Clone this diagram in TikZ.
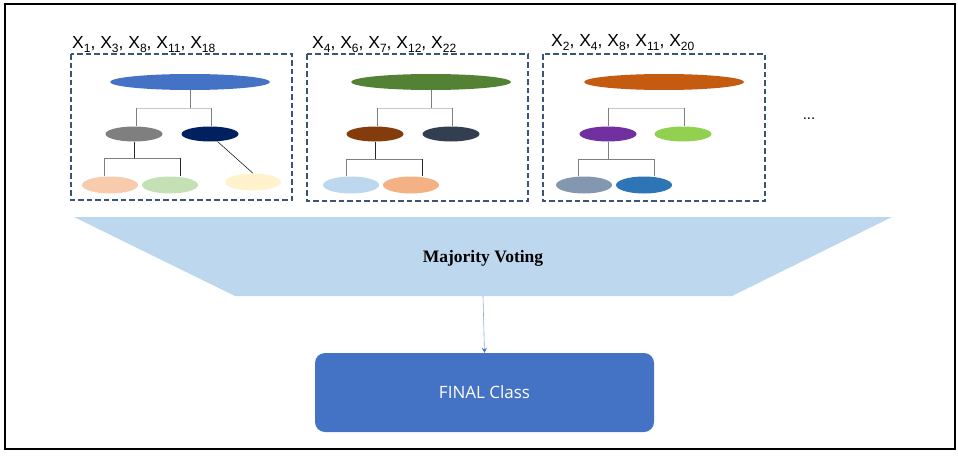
\documentclass[tikz,border=0pt]{standalone}
\usepackage{fontspec}
\setmainfont{Liberation Sans}
\newfontfamily\serifbold{Liberation Serif}
\newfontfamily\uifont{Open Sans}
\usetikzlibrary{shapes.geometric,arrows.meta}
\definecolor{dashc}{RGB}{59,84,122}
\definecolor{rootA}{HTML}{4472C4}
\definecolor{greyA}{HTML}{7F7F7F}
\definecolor{navyA}{HTML}{002060}
\definecolor{peachA}{HTML}{F8CBAD}
\definecolor{lgreenA}{HTML}{C5E0B4}
\definecolor{creamA}{HTML}{FFF2CC}
\definecolor{rootB}{HTML}{548235}
\definecolor{brownB}{HTML}{843C0C}
\definecolor{slateB}{HTML}{333F50}
\definecolor{lblueB}{HTML}{BDD7EE}
\definecolor{orangeB}{HTML}{F4B183}
\definecolor{rootC}{HTML}{C55A11}
\definecolor{purpleC}{HTML}{7030A0}
\definecolor{greenC}{HTML}{92D050}
\definecolor{greyblueC}{HTML}{8497B0}
\definecolor{blueC}{HTML}{2E75B6}
\definecolor{trapc}{HTML}{BDD7EE}
\definecolor{finalc}{HTML}{4472C4}
\definecolor{arrowc}{HTML}{8FAADC}
\newcommand\sbx[1]{\raisebox{-0.28em}{\fontsize{12}{12}\selectfont #1}}
\tikzset{
  dbox/.style={draw=dashc, line width=1.8pt, dash pattern=on 5.5pt off 3pt},
  rootell/.style={ellipse, minimum width=160pt, minimum height=16pt, inner sep=0pt},
  kidell/.style={ellipse, minimum width=57pt, minimum height=15pt, inner sep=0pt},
  leafell/.style={ellipse, minimum width=56pt, minimum height=17pt, inner sep=0pt},
  lgline/.style={draw={rgb,255:red,200;green,200;blue,200}, line width=0.9pt},
  gline/.style={draw=greyA, line width=0.9pt},
  dline/.style={draw={rgb,255:red,40;green,40;blue,40}, line width=0.9pt},
  lbl/.style={anchor=base west, inner sep=0pt, font=\fontsize{17.5}{17.5}\selectfont},
}
\begin{document}
\begin{tikzpicture}[x=1pt,y=-1pt]
\useasboundingbox (0,0) rectangle (958,455);
\draw[black, line width=1.2pt] (5,4) rectangle (955,449);

% boxes
\draw[dbox] (71,54) rectangle (292,200);
\draw[dbox] (307,54) rectangle (528,201);
\draw[dbox] (543,54) rectangle (765,201);

\node[lbl] (lab1) at (72,48) {X\sbx{1}, X\sbx{3}, X\sbx{8}, X\sbx{11}, X\sbx{18}};
\node[lbl] (lab2) at (312,48) {X\sbx{4}, X\sbx{6}, X\sbx{7}, X\sbx{12}, X\sbx{22}};
\node[lbl] (lab3) at (551,46) {X\sbx{2}, X\sbx{4}, X\sbx{8}, X\sbx{11}, X\sbx{20}};

% ---- tree 1
\node[rootell, fill=rootA] (r1) at (190,82) {};
\node[kidell, fill=greyA] (c1a) at (134,134) {};
\node[kidell, fill=navyA] (c1b) at (210,134) {};
\node[leafell, fill=peachA] (l1a) at (110,185) {};
\node[leafell, fill=lgreenA] (l1b) at (170,185) {};
\node[leafell, fill=creamA] (l1c) at (253,182) {};
\coordinate (j1) at (190,108);
\coordinate (j1L) at (136,108);
\coordinate (j1R) at (211,108);
\draw[gline] (r1.south) -- (j1);
\draw[lgline] (j1L) -- (j1R);
\draw[gline] (j1L) -- (j1L |- c1a.north);
\draw[gline] (j1R) -- (j1R |- c1b.north);
\coordinate (k1) at (134,158);
\coordinate (k1L) at (104,158);
\coordinate (k1R) at (180,158);
\draw[dline] (c1a.south) -- (k1);
\draw[gline] (k1L) -- (k1R);
\draw[gline] (k1L) -- (k1L |- l1a.north);
\draw[dline] (k1R) -- (k1R |- l1b.north);
\draw[black, line width=0.5pt] (c1b.-45) -- (l1c.north);

% ---- tree 2
\node[rootell, fill=rootB] (r2) at (431,82) {};
\node[kidell, fill=brownB] (c2a) at (375,134) {};
\node[kidell, fill=slateB] (c2b) at (451,134) {};
\node[leafell, fill=lblueB] (l2a) at (351,185) {};
\node[leafell, fill=orangeB] (l2b) at (411,185) {};
\coordinate (j2) at (431,108);
\coordinate (j2L) at (377,108);
\coordinate (j2R) at (452,108);
\draw[gline] (r2.south) -- (j2);
\draw[lgline] (j2L) -- (j2R);
\draw[gline] (j2L) -- (j2L |- c2a.north);
\draw[gline] (j2R) -- (j2R |- c2b.north);
\coordinate (k2) at (375,159);
\coordinate (k2L) at (346,159);
\coordinate (k2R) at (422,159);
\draw[dline] (c2a.south) -- (k2);
\draw[gline] (k2L) -- (k2R);
\draw[gline] (k2L) -- (k2L |- l2a.north);
\draw[dline] (k2R) -- (k2R |- l2b.north);

% ---- tree 3
\node[rootell, fill=rootC] (r3) at (664,82) {};
\node[kidell, fill=purpleC] (c3a) at (608,134) {};
\node[kidell, fill=greenC] (c3b) at (683,134) {};
\node[leafell, fill=greyblueC] (l3a) at (584,185) {};
\node[leafell, fill=blueC] (l3b) at (644,185) {};
\coordinate (j3L) at (608,108);
\coordinate (j3R) at (684,108);
\draw[lgline] (j3L) -- (j3R);
\draw[gline] (j3L) -- (j3L |- c3a.north);
\draw[gline] (j3R) -- (j3R |- c3b.north);
\coordinate (k3) at (608,159);
\coordinate (k3L) at (578,159);
\coordinate (k3R) at (654,159);
\draw[gline] (c3a.south) -- (k3);
\draw[gline] (k3L) -- (k3R);
\draw[gline] (k3L) -- (k3L |- l3a.north);
\draw[gline] (k3R) -- (k3R |- l3b.north);

\node[font=\fontsize{15}{15}\selectfont, inner sep=0pt] (dots) at (809,119) {...};

% ---- majority voting
\fill[trapc] (74,217) -- (892,217) -- (732,296) -- (235,296) -- cycle;
\node[font=\serifbold\bfseries\fontsize{17.5}{17.5}\selectfont, inner sep=0pt] (mv) at (483,258) {Majority Voting};
\coordinate (tb) at (483,296);

\node[fill=finalc, rounded corners=10pt, minimum width=339pt, minimum height=79pt, inner sep=0pt,
      text=white, font=\uifont\fontsize{17}{17}\selectfont] (final) at (484.5,392.5) {FINAL Class};
\draw[arrowc, line width=0.6pt, -{Stealth[length=5pt,width=5pt,color=finalc]}] (tb) -- (final.north);
\end{tikzpicture}
\end{document}
